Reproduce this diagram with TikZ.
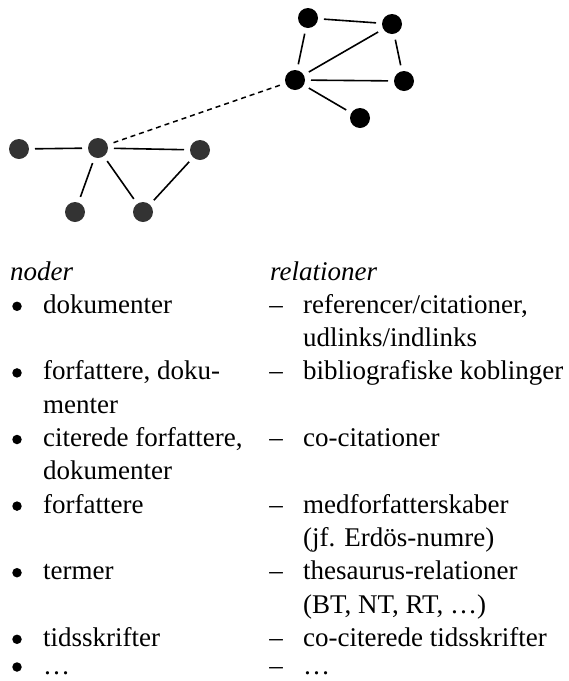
\documentclass[tikz,border=0pt]{standalone}
\usepackage{fontspec}
\setmainfont{Liberation Serif}
\begin{document}
\begin{tikzpicture}[x=1pt,y=-1pt,
  dot/.style={circle,fill=black,inner sep=0pt,minimum size=20pt,outer sep=6pt},
  greydot/.style={dot,fill=black!80},
  edge/.style={line width=1.6pt},
  dashedge/.style={line width=1.5pt,dash pattern=on 5pt off 4pt},
  txt/.style={anchor=base west,inner sep=0pt,font=\fontsize{27}{33}\selectfont},
  bul/.style={circle,fill=black,inner sep=0pt,minimum size=9.5pt},
  itemsym/.style={anchor=base,inner sep=0pt,font=\fontsize{27}{33}\selectfont}]
\useasboundingbox (0,0) rectangle (569,681);
% top cluster
\node[dot] (t1) at (308,18) {};
\node[dot] (t2) at (392,24) {};
\node[dot] (tc) at (295,80) {};
\node[dot] (tr) at (404,81) {};
\node[dot] (tb) at (360,118) {};
% left cluster
\node[greydot] (l1) at (19,149) {};
\node[greydot] (lc) at (98,148) {};
\node[greydot] (lr) at (200,150) {};
\node[greydot] (lb1) at (75,212) {};
\node[greydot] (lb2) at (143,212) {};
\draw[edge] (t1) -- (t2);
\draw[edge] (t1) -- (tc);
\draw[edge] (t2) -- (tc);
\draw[edge] (t2) -- (tr);
\draw[edge] (tc) -- (tr);
\draw[edge] (tc) -- (tb);
\draw[dashedge] (tc) -- (lc);
\draw[edge] (l1) -- (lc);
\draw[edge] (lc) -- (lr);
\draw[edge] (lc) -- (lb1);
\draw[edge] (lc) -- (lb2);
\draw[edge] (lr) -- (lb2);
% headers
\node[txt] (hn) at (10,280) {\itshape noder};
\node[txt] (hr) at (270,280) {\itshape relationer};
% bullets and dashes
\foreach \k/\nm in {1/b1,3/b2,5/b3,7/b4,9/b5,11/b6}{
  \node[bul] (\nm) at (17,{280+33.3*\k-7}) {};
  \node[itemsym] (d\nm) at (276,{280+33.3*\k}) {–};
}
\node[bul] (b7) at (17,667) {};
\node[itemsym] (db7) at (276,674) {–};
% left column
\node[txt] (n1) at (43,{280+33.3*1}) {dokumenter};
\node[txt] (n2) at (43,{280+33.3*3}) {forfattere, doku-};
\node[txt] (n2b) at (43,{280+33.3*4}) {menter};
\node[txt] (n3) at (43,{280+33.3*5}) {citerede forfattere,};
\node[txt] (n3b) at (43,{280+33.3*6}) {dokumenter};
\node[txt] (n4) at (43,{280+33.3*7}) {forfattere};
\node[txt] (n5) at (43,{280+33.3*9}) {termer};
\node[txt] (n6) at (43,{280+33.3*11}) {tidsskrifter};
\node[txt] (n7) at (43,674) {…};
% right column
\node[txt] (r1) at (303,{280+33.3*1}) {referencer/citationer,};
\node[txt] (r1b) at (303,{280+33.3*2}) {udlinks/indlinks};
\node[txt] (r2) at (303,{280+33.3*3}) {bibliografiske koblinger};
\node[txt] (r3) at (303,{280+33.3*5}) {co-citationer};
\node[txt] (r4) at (303,{280+33.3*7}) {medforfatterskaber};
\node[txt] (r4b) at (303,{280+33.3*8}) {(jf. Erdös-numre)};
\node[txt] (r5) at (303,{280+33.3*9}) {thesaurus-relationer};
\node[txt] (r5b) at (303,{280+33.3*10}) {(BT, NT, RT, …)};
\node[txt] (r6) at (303,{280+33.3*11}) {co-citerede tidsskrifter};
\node[txt] (r7) at (303,674) {…};
\end{tikzpicture}
\end{document}
